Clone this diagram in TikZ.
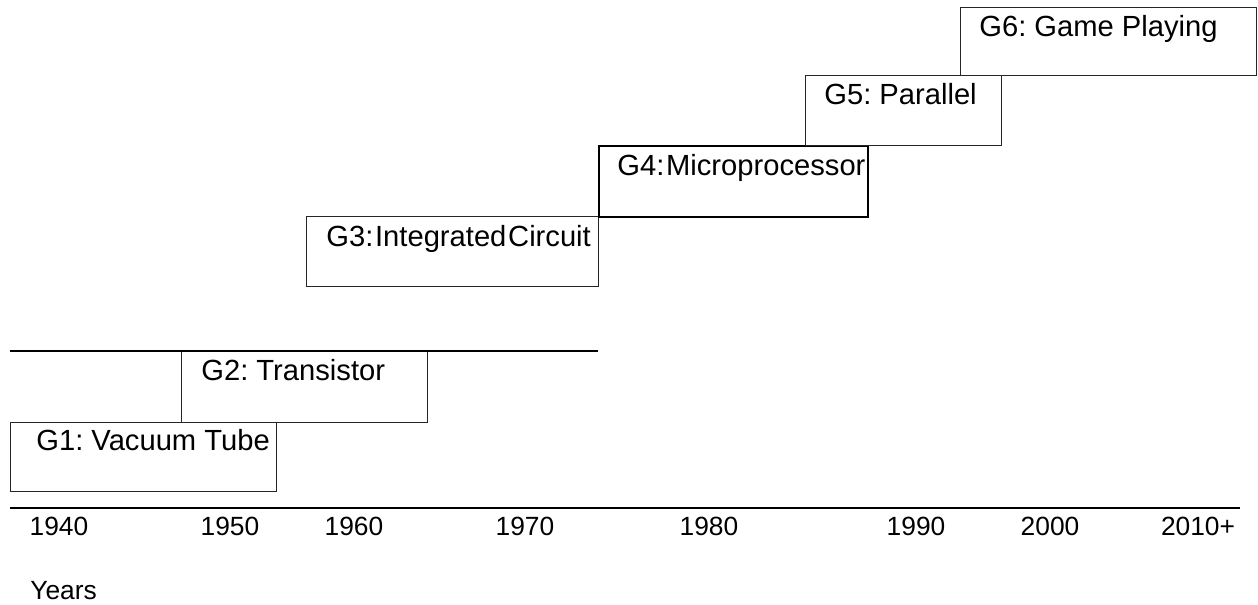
\documentclass[tikz,border=0pt]{standalone}
\usepackage{fontspec}
\setmainfont{Liberation Sans}
\frenchspacing
\usetikzlibrary{positioning, calc}
\tikzset{
        gen-box/.style={
            draw=black!85, rectangle, anchor=north west, inner sep=0pt, line width=0.7pt
        },
        gen-label/.style={
            anchor=north west, inner sep=0pt, font=\fontsize{16.6}{19}\selectfont
        },
        year-label/.style={
            inner sep=0pt, font=\fontsize{15}{18}\selectfont
        },
        rule/.style={
            draw=black, line width=0.9pt
        },
}

\begin{document}
\begin{tikzpicture}[x=0.02cm, y=-0.02cm]
        \useasboundingbox (0,0) rectangle (1258,605);

        %DRAW BOXES (placed by top left corner, one per generation)
        \node [gen-box, minimum width=5.32cm, minimum height=1.38cm]   (G1) at (10,422)  {};
        \node [gen-box, minimum width=4.92cm, minimum height=1.42cm]   (G2) at (181,351) {};
        \node [gen-box, minimum width=5.84cm, minimum height=1.40cm]   (G3) at (306,216) {};
        \node [gen-box, minimum width=5.38cm, minimum height=1.42cm,
               draw=black, line width=1.3pt]                           (G4) at (598,145) {};
        \node [gen-box, minimum width=3.92cm, minimum height=1.40cm]   (G5) at (805,75)  {};
        \node [gen-box, minimum width=5.92cm, minimum height=1.36cm]   (G6) at (960,7)   {};

        %LABELS (relative to the box corners)
        \node [gen-label] (G1t) at ($(G1.north west)+(26,7)$) {G1: Vacuum Tube};
        \node [gen-label] (G2t) at ($(G2.north west)+(20,8)$) {G2: Transistor};
        \node [gen-label] (G3t) at ($(G3.north west)+(20,9)$) {G3:\kern1pt Integrated\kern1pt Circuit};
        \node [gen-label] (G4t) at ($(G4.north west)+(19,9)$) {G4:\kern1pt Microprocessor};
        \node [gen-label] (G5t) at ($(G5.north west)+(19,8)$) {G5: Parallel};
        \node [gen-label] (G6t) at ($(G6.north west)+(19,8)$) {G6: Game Playing};

        % TOP RULE
        \coordinate (topL) at (10,351);
        \coordinate (topR) at (598,351);
        \draw [rule] (topL) -- (topR);
        \draw [rule, line width=1.5pt] (G2.north west) -- (G2.north east);

        % TIME AXIS
        \coordinate (axL) at (10,508);
        \coordinate (axM) at (426,508);
        \coordinate (axR) at (1240,508);
        \draw [rule] (axL) -- (axR);
        \draw [rule, line width=1.4pt] (axM) -- (axR);

        \foreach \yr/\xp [count=\i] in {1940/59, 1950/230, 1960/354, 1970/525,
                                         1980/709, 1990/916, 2000/1050, 2010+/1198}
            \node [year-label] (yr\i) at (\xp,526) {\yr};

        \node [year-label, anchor=west] (years) at (30,591) {Years};

\end{tikzpicture}
\end{document}
